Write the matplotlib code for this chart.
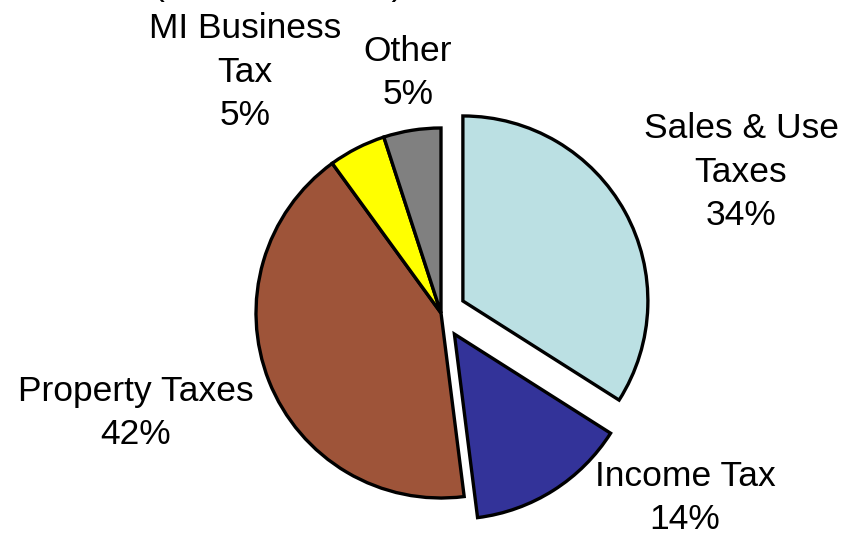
import matplotlib.pyplot as plt

plt.rcParams['font.family'] = ['Liberation Sans', 'DejaVu Sans']

# revenue share by source
labels = ["Sales & Use\nTaxes", "Income Tax", "Property Taxes", "MI Business\nTax", "Other"]
shares = [34, 14, 42, 5, 5]
colors = ["#BBE0E3", "#333399", "#9E5439", "#FFFF00", "#808080"]
explode = [0.135, 0.135, 0, 0, 0]

W, H = 844, 535
cx, cy, r = 441, 313, 185   # pie centre / radius in pixels (from top-left)

fig = plt.figure(figsize=(W / 100, H / 100), dpi=100)
ax = fig.add_axes([0, 0, 1, 1])
ax.pie(shares, colors=colors, explode=explode, startangle=90, counterclock=False,
       wedgeprops=dict(edgecolor="black", linewidth=2.4))
ax.set_xlim(-cx / r, (W - cx) / r)
ax.set_ylim(-(H - cy) / r, cy / r)
ax.set_aspect("equal")
ax.axis("off")

# label block centres in pixels
label_pos = [(741, 172), (685, 498), (136, 413), (245, 72), (408, 73)]
for lab, val, (px, py) in zip(labels, shares, label_pos):
    fig.text(px / W, 1 - py / H, "%s\n%d%%" % (lab, val), ha="center", va="center",
             fontsize=25.5, linespacing=1.42)

# title mostly clipped off the top
fig.text(278 / W, 1 + 5 / H, "(Total Revenue)", ha="center", va="baseline", fontsize=25.5)

plt.savefig("out.png", dpi=100)
